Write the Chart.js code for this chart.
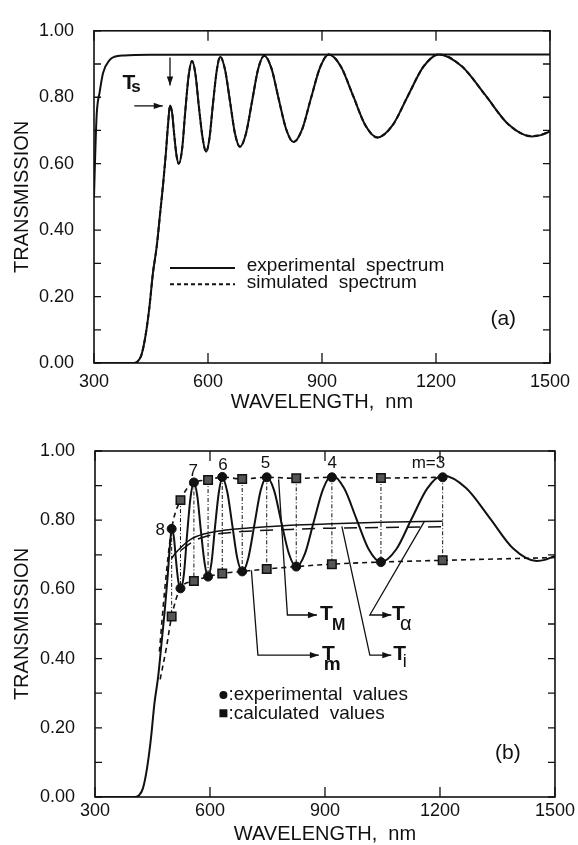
<!DOCTYPE html>
<html>
<head>
<meta charset="utf-8">
<script src="https://cdn.jsdelivr.net/npm/chart.js@4.4.0/dist/chart.umd.min.js"></script>
<style>
  html, body { margin: 0; padding: 0; background: #fff; }
  #wrapA { position: absolute; left: 0; top: 0; width: 578px; height: 420px; }
  #wrapB { position: absolute; left: 0; top: 420px; width: 578px; height: 425px; }
</style>
</head>
<body>
<div id="wrapA"><canvas id="chartA" width="578" height="420"></canvas></div>
<div id="wrapB"><canvas id="chartB" width="578" height="425"></canvas></div>
<script>
// transmission spectrum of the film
const specWl = [300, 405, 415, 425, 436, 446, 455, 465, 474, 482, 489, 495, 500, 506, 511, 517, 523, 532, 540, 549,
  558, 567, 576, 586, 595, 604, 613, 623, 632, 645, 658, 671, 684, 700, 716, 732, 748, 767, 786, 806,
  825, 848, 871, 895, 918, 950, 982, 1014, 1046, 1086, 1126, 1167, 1207, 1268, 1330, 1391, 1452, 1476, 1500];
const expT = [0, 0, 0.005, 0.025, 0.085, 0.17, 0.27, 0.35, 0.45, 0.54, 0.63, 0.72, 0.775, 0.749, 0.688, 0.626, 0.600, 0.645, 0.755, 0.864,
  0.909, 0.869, 0.772, 0.676, 0.636, 0.678, 0.779, 0.880, 0.922, 0.882, 0.787, 0.691, 0.651, 0.691, 0.788, 0.885, 0.925, 0.887, 0.795, 0.703,
  0.665, 0.704, 0.797, 0.890, 0.929, 0.892, 0.804, 0.716, 0.679, 0.716, 0.804, 0.892, 0.929, 0.893, 0.806, 0.718, 0.682, 0.686, 0.697];
const simT = [0, 0, 0.005, 0.025, 0.085, 0.17, 0.27, 0.35, 0.45, 0.54, 0.63, 0.72, 0.775, 0.749, 0.688, 0.626, 0.600, 0.645, 0.755, 0.864,
  0.909, 0.869, 0.772, 0.676, 0.636, 0.678, 0.779, 0.880, 0.922, 0.882, 0.787, 0.691, 0.651, 0.691, 0.788, 0.885, 0.925, 0.887, 0.795, 0.703,
  0.665, 0.704, 0.797, 0.890, 0.929, 0.892, 0.804, 0.716, 0.679, 0.716, 0.804, 0.892, 0.929, 0.893, 0.806, 0.718, 0.683, 0.687, 0.697];

// bare substrate (Ts)
const subWl = [300, 303, 307, 315, 324, 341, 354, 380, 450, 1500];
const subT = [0.50, 0.62, 0.747, 0.816, 0.874, 0.912, 0.922, 0.926, 0.928, 0.929];

// extrema, panel (b)
const peakWl = [500, 558, 632, 748, 918, 1207];
const peakT = [0.775, 0.909, 0.925, 0.924, 0.924, 0.924];
const valleyWl = [523, 595, 684, 825, 1046];
const valleyT = [0.603, 0.637, 0.652, 0.666, 0.679];
const calcUpperT = [0.858, 0.916, 0.919, 0.921, 0.922];       // at valleyWl
const calcLowerT = [0.522, 0.624, 0.646, 0.659, 0.673, 0.684]; // at peakWl
const upperLeadWl = [468, 482];
const upperLeadT = [0.42, 0.60];
const lowerLeadWl = [470, 486];
const lowerLeadT = [0.34, 0.43];
const lowerTailWl = [1500];
const lowerTailT = [0.692];

// T alpha (solid) and Ti (long dash)
const alphaWl = [500, 510, 523, 540, 558, 595, 632, 684, 748, 825, 918, 1046, 1207];
const alphaT = [0.690, 0.705, 0.720, 0.737, 0.750, 0.763, 0.770, 0.776, 0.781, 0.786, 0.790, 0.794, 0.797];
const tiWl = [523, 558, 595, 632, 684, 748, 825, 918, 1046, 1207];
const tiT = [0.712, 0.740, 0.755, 0.762, 0.767, 0.771, 0.774, 0.777, 0.779, 0.781];

const orderLabels = ['8', '7', '6', '5', '4', 'm=3'];
const yTickLabels = ['0.00', '0.20', '0.40', '0.60', '0.80', '1.00'];

const INK = '#111';
Chart.defaults.font.family = "'Liberation Sans', Arial, sans-serif";
Chart.defaults.color = INK;

function pts(xs, ys) {
  return xs.map((v, i) => ({ x: v, y: ys[i] }));
}
function merged(list) {
  return list.reduce((acc, p) => acc.concat(p), []).sort((a, b) => a.x - b.x);
}
function P(chart, wl, t) {
  return { x: chart.scales.x.getPixelForValue(wl), y: chart.scales.y.getPixelForValue(t) };
}
function arrow(ctx, list) {
  ctx.beginPath();
  ctx.moveTo(list[0].x, list[0].y);
  for (let i = 1; i < list.length; i++) ctx.lineTo(list[i].x, list[i].y);
  ctx.stroke();
  const a = list[list.length - 2], b = list[list.length - 1];
  const ang = Math.atan2(b.y - a.y, b.x - a.x);
  const L = 9, W = 3.2;
  ctx.beginPath();
  ctx.moveTo(b.x, b.y);
  ctx.lineTo(b.x - L * Math.cos(ang) + W * Math.sin(ang), b.y - L * Math.sin(ang) - W * Math.cos(ang));
  ctx.lineTo(b.x - L * Math.cos(ang) - W * Math.sin(ang), b.y - L * Math.sin(ang) + W * Math.cos(ang));
  ctx.closePath();
  ctx.fill();
}
function text(ctx, s, p, font, align, base) {
  ctx.font = font;
  ctx.textAlign = align || 'left';
  ctx.textBaseline = base || 'alphabetic';
  ctx.fillText(s, p.x, p.y);
}

// box round the plot with inward ticks on all four sides
const framePlugin = {
  id: 'frame',
  afterDraw(chart) {
    const { ctx, chartArea: a, scales: { x, y } } = chart;
    ctx.save();
    ctx.strokeStyle = INK;
    ctx.lineWidth = 1.6;
    ctx.strokeRect(a.left, a.top, a.right - a.left, a.bottom - a.top);
    ctx.lineWidth = 1.3;
    ctx.beginPath();
    y.ticks.forEach(t => {
      const py = y.getPixelForValue(t.value);
      ctx.moveTo(a.left, py); ctx.lineTo(a.left + 7, py);
      ctx.moveTo(a.right, py); ctx.lineTo(a.right - 7, py);
    });
    x.ticks.forEach(t => {
      const px = x.getPixelForValue(t.value);
      ctx.moveTo(px, a.bottom); ctx.lineTo(px, a.bottom - 10);
      ctx.moveTo(px, a.top); ctx.lineTo(px, a.top + 10);
    });
    ctx.stroke();
    ctx.restore();
  }
};

function options(cfg) {
  return {
    responsive: false,
    animation: false,
    devicePixelRatio: 1,
    layout: { padding: cfg.padding },
    plugins: { legend: { display: false }, tooltip: { enabled: false } },
    elements: { point: { radius: 0 }, line: { fill: false } },
    scales: {
      x: {
        type: 'linear', min: 300, max: 1500,
        grid: { display: false, drawTicks: false },
        border: { display: false },
        ticks: {
          stepSize: 300, autoSkip: false, maxRotation: 0, padding: cfg.xTickPad, font: { size: 18 }, color: INK,
          callback: v => String(v)
        },
        title: { display: true, text: 'WAVELENGTH,  nm', font: { size: 20, lineHeight: 1 }, color: INK, padding: { top: 0, bottom: cfg.xTitlePad } },
        afterFit(s) { s.height = cfg.xHeight; }
      },
      y: {
        type: 'linear', min: 0, max: 1,
        grid: { display: false, drawTicks: false },
        border: { display: false },
        ticks: {
          stepSize: 0.1, autoSkip: false, padding: 20, font: { size: 18 }, color: INK,
          callback: (v, i) => (i % 2 === 0 ? yTickLabels[i / 2] : '')
        },
        title: { display: true, text: 'TRANSMISSION', font: { size: 20, lineHeight: 1 }, color: INK, padding: { top: 12, bottom: 0 } },
        afterFit(s) { s.width = cfg.yWidth; }
      }
    }
  };
}

// ---------- panel (a) ----------
const notesA = {
  id: 'notesA',
  afterDatasetsDraw(chart) {
    const ctx = chart.ctx;
    ctx.save();
    ctx.fillStyle = INK;
    ctx.strokeStyle = INK;
    ctx.lineWidth = 1.3;
    text(ctx, 'T', P(chart, 375, 0.825), 'bold 21px Liberation Sans');
    text(ctx, 's', P(chart, 398, 0.815), 'bold 17px Liberation Sans');
    arrow(ctx, [P(chart, 500, 0.92), P(chart, 500, 0.835)]);
    arrow(ctx, [P(chart, 406, 0.774), P(chart, 481, 0.774)]);

    // legend
    ctx.lineWidth = 2;
    ctx.beginPath();
    let a = P(chart, 500, 0.286), b = P(chart, 671, 0.286);
    ctx.moveTo(a.x, a.y); ctx.lineTo(b.x, b.y); ctx.stroke();
    ctx.setLineDash([4, 3]);
    ctx.beginPath();
    a = P(chart, 500, 0.237); b = P(chart, 671, 0.237);
    ctx.moveTo(a.x, a.y); ctx.lineTo(b.x, b.y); ctx.stroke();
    ctx.setLineDash([]);
    text(ctx, 'experimental  spectrum', P(chart, 702, 0.292), '19px Liberation Sans', 'left', 'middle');
    text(ctx, 'simulated  spectrum', P(chart, 702, 0.242), '19px Liberation Sans', 'left', 'middle');
    text(ctx, '(a)', P(chart, 1377, 0.131), '21px Liberation Sans', 'center', 'middle');
    ctx.restore();
  }
};

new Chart(document.getElementById('chartA'), {
  type: 'line',
  data: {
    datasets: [
      { data: pts(specWl, simT), borderColor: INK, borderWidth: 2, borderDash: [5, 3], cubicInterpolationMode: 'monotone' },
      { data: pts(specWl, expT), borderColor: INK, borderWidth: 2, cubicInterpolationMode: 'monotone' },
      { data: pts(subWl, subT), borderColor: INK, borderWidth: 2, cubicInterpolationMode: 'monotone' }
    ]
  },
  options: options({ padding: { left: 0, right: 18, top: 20, bottom: 0 }, xHeight: 57, yWidth: 94, xTickPad: 8, xTitlePad: 8 }),
  plugins: [framePlugin, notesA]
});

// ---------- panel (b) ----------
const connectors = [];
peakWl.forEach((w, i) => { connectors.push({ x: w, y: peakT[i] }, { x: w, y: calcLowerT[i] }, { x: w, y: null }); });
valleyWl.forEach((w, i) => { connectors.push({ x: w, y: calcUpperT[i] }, { x: w, y: valleyT[i] }, { x: w, y: null }); });
connectors.sort((p, q) => p.x - q.x);

const notesB = {
  id: 'notesB',
  afterDatasetsDraw(chart) {
    const ctx = chart.ctx;
    ctx.save();
    ctx.fillStyle = INK;
    ctx.strokeStyle = INK;
    ctx.lineWidth = 1.3;

    // interference orders
    const lab = [[470, 0.772], [556, 0.941], [634, 0.960], [745, 0.963], [919, 0.963], [1170, 0.963]];
    orderLabels.forEach((s, i) => text(ctx, s, P(chart, lab[i][0], lab[i][1]), '17px Liberation Sans', 'center', 'middle'));

    // pointers
    arrow(ctx, [P(chart, 779, 0.918), P(chart, 802, 0.526), P(chart, 879, 0.526)]);
    arrow(ctx, [P(chart, 708, 0.655), P(chart, 725, 0.410), P(chart, 884, 0.410)]);
    arrow(ctx, [P(chart, 944, 0.782), P(chart, 1017, 0.410), P(chart, 1073, 0.410)]);
    arrow(ctx, [P(chart, 1159, 0.796), P(chart, 1017, 0.526), P(chart, 1073, 0.526)]);
    text(ctx, 'T', P(chart, 887, 0.512), 'bold 21px Liberation Sans');
    text(ctx, 'M', P(chart, 918, 0.483), 'bold 16px Liberation Sans');
    text(ctx, 'T', P(chart, 892, 0.396), 'bold 21px Liberation Sans');
    text(ctx, 'm', P(chart, 897, 0.367), 'bold 19px Liberation Sans');
    text(ctx, 'T', P(chart, 1075, 0.512), 'bold 21px Liberation Sans');
    text(ctx, '\u03b1', P(chart, 1096, 0.483), '20px Liberation Sans');
    text(ctx, 'T', P(chart, 1078, 0.396), 'bold 21px Liberation Sans');
    text(ctx, 'i', P(chart, 1103, 0.376), '18px Liberation Sans');

    // legend
    let c = P(chart, 635, 0.295);
    ctx.beginPath(); ctx.arc(c.x, c.y, 4, 0, Math.PI * 2); ctx.fill();
    c = P(chart, 635, 0.242);
    ctx.fillRect(c.x - 4, c.y - 4, 8, 8);
    text(ctx, ':experimental  values', P(chart, 648, 0.295), '19px Liberation Sans', 'left', 'middle');
    text(ctx, ':calculated  values', P(chart, 648, 0.242), '19px Liberation Sans', 'left', 'middle');
    text(ctx, '(b)', P(chart, 1377, 0.127), '21px Liberation Sans', 'center', 'middle');
    ctx.restore();
  }
};

new Chart(document.getElementById('chartB'), {
  type: 'line',
  data: {
    datasets: [
      { data: pts(peakWl, peakT), showLine: false, pointRadius: 4.5, pointBackgroundColor: INK, pointBorderColor: INK },
      { data: pts(valleyWl, valleyT), showLine: false, pointRadius: 4.5, pointBackgroundColor: INK, pointBorderColor: INK },
      { data: pts(valleyWl, calcUpperT), showLine: false, pointStyle: 'rect', pointRadius: 6, pointBackgroundColor: '#555', pointBorderColor: INK, pointBorderWidth: 1.5 },
      { data: pts(peakWl, calcLowerT), showLine: false, pointStyle: 'rect', pointRadius: 6, pointBackgroundColor: '#555', pointBorderColor: INK, pointBorderWidth: 1.5 },
      { data: merged([pts(upperLeadWl, upperLeadT), pts(peakWl, peakT), pts(valleyWl, calcUpperT)]), borderColor: INK, borderWidth: 1.6, borderDash: [5, 4], cubicInterpolationMode: 'monotone' },
      { data: merged([pts(lowerLeadWl, lowerLeadT), pts(peakWl, calcLowerT), pts(valleyWl, valleyT), pts(lowerTailWl, lowerTailT)]), borderColor: INK, borderWidth: 1.6, borderDash: [5, 4], cubicInterpolationMode: 'monotone' },
      { data: connectors, borderColor: INK, borderWidth: 1, borderDash: [4, 2, 1, 2], spanGaps: false },
      { data: pts(alphaWl, alphaT), borderColor: INK, borderWidth: 1.5, cubicInterpolationMode: 'monotone' },
      { data: pts(tiWl, tiT), borderColor: INK, borderWidth: 1.5, borderDash: [13, 8], cubicInterpolationMode: 'monotone' },
      { data: pts(specWl, expT), borderColor: INK, borderWidth: 2, cubicInterpolationMode: 'monotone' }
    ]
  },
  options: options({ padding: { left: 0, right: 17, top: 31, bottom: 0 }, xHeight: 48, yWidth: 95, xTickPad: 3, xTitlePad: 1 }),
  plugins: [framePlugin, notesB]
});
</script>
</body>
</html>
